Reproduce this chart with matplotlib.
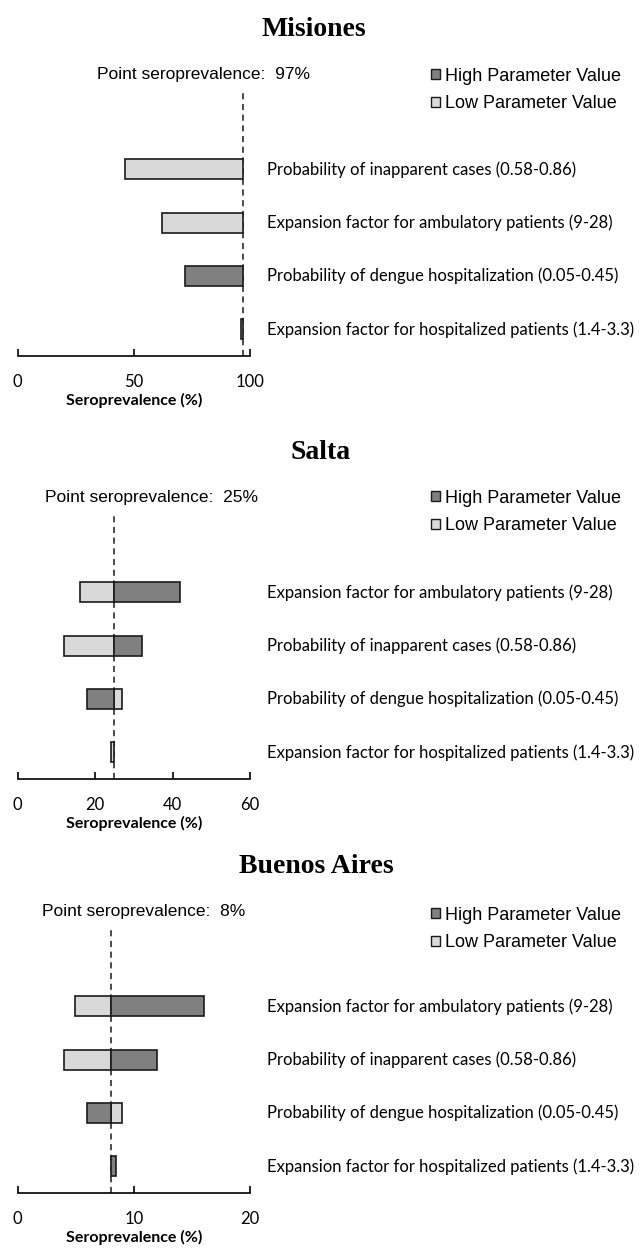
import matplotlib
matplotlib.use("Agg")
import matplotlib.pyplot as plt
from matplotlib.patches import Patch

# parameter labels (top row first)
lab_inapp = "Probability of inapparent cases (0.58-0.86)"
lab_amb = "Expansion factor for ambulatory patients (9-28)"
lab_hosp = "Probability of dengue hospitalization (0.05-0.45)"
lab_hfac = "Expansion factor for hospitalized patients (1.4-3.3)"

# Misiones
mis_labels = [lab_inapp, lab_amb, lab_hosp, lab_hfac]
mis_point = 97
mis_low = [46, 62, 97, 96]
mis_high = [97, 97, 72, 97]
mis_ticks = [0, 50, 100]

# Salta
sal_labels = [lab_amb, lab_inapp, lab_hosp, lab_hfac]
sal_point = 25
sal_low = [16, 12, 27, 24]
sal_high = [42, 32, 18, 25]
sal_ticks = [0, 20, 40, 60]

# Buenos Aires
ba_labels = [lab_amb, lab_inapp, lab_hosp, lab_hfac]
ba_point = 8
ba_low = [4.9, 4, 9, 8]
ba_high = [16, 12, 6, 8.5]
ba_ticks = [0, 10, 20]

HIGH_C = "#808080"
LOW_C = "#d9d9d9"
EDGE = "#1a1a1a"
W, H = 641, 1254


def panel(ax, title, title_x, point, labels, low, high, ticks, text_x, leg_y):
    rows = list(range(len(labels)))[::-1]
    for r, lo, hi in zip(rows, low, high):
        if lo != point:
            ax.barh(r, lo - point, left=point, height=0.375, color=LOW_C,
                    edgecolor=EDGE, linewidth=1.2, zorder=2)
        if hi != point:
            ax.barh(r, hi - point, left=point, height=0.375, color=HIGH_C,
                    edgecolor=EDGE, linewidth=1.2, zorder=2)
    ax.axvline(point, color=EDGE, lw=1.1, ls=(0, (4, 3)), zorder=1)
    for r, lab in zip(rows, labels):
        ax.text(1.073, r, lab, transform=ax.get_yaxis_transform(),
                ha="left", va="center", fontsize=12, family="Lato")

    ax.set_xlim(ticks[0], ticks[-1])
    ax.set_ylim(-0.5, 4.45)
    ax.set_xticks(ticks)
    ax.set_yticks([])
    for s in ["top", "left", "right"]:
        ax.spines[s].set_visible(False)
    ax.spines["bottom"].set_linewidth(1.2)
    ax.tick_params(axis="x", direction="in", length=5, width=1.2, pad=13,
                   labelsize=12)
    for t in ax.get_xticklabels():
        t.set_family("Lato")
    ax.set_xlabel("Seroprevalence (%)", fontsize=11.5, fontweight="bold",
                  family="Lato", labelpad=2)

    ax.text(text_x, 1.065, "Point seroprevalence:  %d%%" % point,
            transform=ax.transAxes, ha="left", va="center", fontsize=12.5,
            family="Liberation Sans")
    fig.text(title_x / W, ax.get_position().y1 + 0.0495, title, ha="center",
             va="center", fontsize=20, fontweight="bold",
             family="Liberation Serif")
    handles = [Patch(facecolor=HIGH_C, edgecolor=EDGE, lw=1),
               Patch(facecolor=LOW_C, edgecolor=EDGE, lw=1)]
    fig.legend(handles, ["High Parameter Value", "Low Parameter Value"],
               loc="center left", bbox_to_anchor=(431 / W, 1 - leg_y / H),
               frameon=False, borderpad=0, borderaxespad=0,
               handlelength=0.5, handleheight=0.5, handletextpad=0.3,
               labelspacing=0.6,
               prop={"family": "Liberation Sans", "size": 13})


fig = plt.figure(figsize=(W / 100, H / 100), dpi=100)

axes_bottoms = [356, 779, 1193]
ax_h = 264
axs = [fig.add_axes([17.7 / W, 1 - b / H, 232.3 / W, ax_h / H])
       for b in axes_bottoms]

panel(axs[0], "Misiones", 314, mis_point, mis_labels, mis_low, mis_high,
      mis_ticks, 0.341, 90)
panel(axs[1], "Salta", 321, sal_point, sal_labels, sal_low, sal_high,
      sal_ticks, 0.118, 512)
panel(axs[2], "Buenos Aires", 316, ba_point, ba_labels, ba_low, ba_high,
      ba_ticks, 0.105, 929)

fig.savefig("out.png", dpi=100, facecolor="white")
